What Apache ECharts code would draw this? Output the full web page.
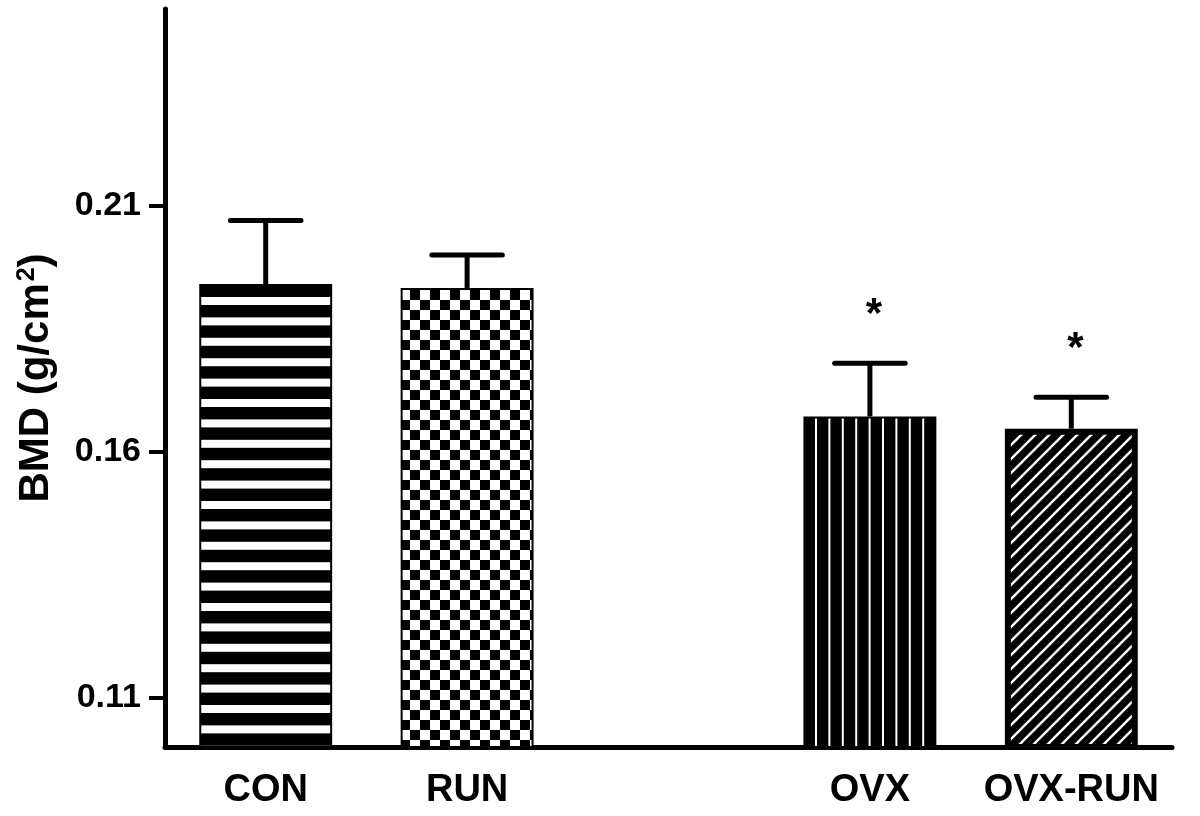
<!DOCTYPE html>
<html><head><meta charset="utf-8">
<script src="https://cdn.jsdelivr.net/npm/echarts@6/dist/echarts.min.js"></script>
<style>html,body{margin:0;padding:0;background:#fff}#c{width:1200px;height:816px}</style>
</head><body><div id="c"></div>
<script>
const categories = ['CON', 'RUN', '', 'OVX', 'OVX-RUN'];
const bmdMean = [0.1941, 0.1933, null, 0.1672, 0.1647];
const bmdSem = [0.0129, 0.0067, null, 0.0108, 0.0064];
const significance = ['', '', '', '*', '*'];
const yTicks = [0.11, 0.16, 0.21];

const FONT = 'Liberation Sans';

function makePattern(w, h, draw) {
  const c = document.createElement('canvas');
  c.width = w; c.height = h;
  const g = c.getContext('2d');
  draw(g, w, h);
  return { image: c, repeat: 'repeat' };
}
// horizontal stripes, period 20.4 px (5 stripes per 102 px tile)
const patHorizontal = makePattern(40, 102, (g, w, h) => {
  g.fillStyle = '#000'; g.fillRect(0, 0, w, h);
  g.fillStyle = '#fff';
  for (let k = 0; k < 6; k++) {
    const y = (93 + 20.4 * k) % 102;
    g.fillRect(0, y, w, 8);
    if (y + 8 > h) g.fillRect(0, y - h, w, 8);
  }
});
const patChecker = makePattern(20, 20, (g, w, h) => {
  g.fillStyle = '#fff'; g.fillRect(0, 0, w, h);
  g.fillStyle = '#000'; g.fillRect(0, 0, 10, 10); g.fillRect(10, 10, 10, 10);
});
// vertical stripes, period 13.4 px (5 per 67 px tile)
const patVertical = makePattern(67, 40, (g, w, h) => {
  g.fillStyle = '#000'; g.fillRect(0, 0, w, h);
  g.fillStyle = '#fff';
  for (let k = 0; k < 5; k++) g.fillRect(11 + 13.4 * k, 0, 2, h);
});
const patDiagonal = makePattern(14, 14, (g, w, h) => {
  g.fillStyle = '#000'; g.fillRect(0, 0, w, h);
  g.strokeStyle = '#fff'; g.lineWidth = 2.4;
  for (let k = -1; k <= 1; k++) {
    g.beginPath(); g.moveTo(k * 14 - 2, 16); g.lineTo(k * 14 + 16, -2); g.stroke();
  }
});
const barPatterns = [patHorizontal, patChecker, null, patVertical, patDiagonal];
const barBorders = [2, 2, 0, 2, 6];

const chart = echarts.init(document.getElementById('c'), null, { renderer: 'canvas' });

const errData = [];
bmdMean.forEach((m, i) => { if (m != null) errData.push([i, m, m + bmdSem[i]]); });

chart.setOption({
  animation: false,
  backgroundColor: '#fff',
  grid: { left: 165, right: 28, top: 9, bottom: 69, containLabel: false },
  xAxis: {
    type: 'category',
    data: categories,
    axisLine: { lineStyle: { color: '#000', width: 5, cap: 'round' } },
    axisTick: { show: false },
    axisLabel: { color: '#000', fontFamily: FONT, fontWeight: 'bold', fontSize: 38, margin: 25, interval: 0 }
  },
  yAxis: {
    type: 'value',
    min: 0.10,
    max: 0.25,
    name: 'BMD (g/cm{sup|2})',
    nameLocation: 'middle',
    nameRotate: 90,
    nameGap: 108,
    nameTextStyle: {
      color: '#000', fontFamily: FONT, fontWeight: 'bold', fontSize: 42,
      rich: { sup: { color: '#000', fontFamily: FONT, fontWeight: 'bold', fontSize: 25, verticalAlign: 'top', padding: [0, 0, 16, 2] } }
    },
    axisLine: { show: true, lineStyle: { color: '#000', width: 5, cap: 'round' } },
    axisTick: { show: true, customValues: yTicks, length: 16, lineStyle: { color: '#000', width: 4 } },
    axisLabel: { customValues: yTicks, formatter: v => v.toFixed(2), color: '#000', fontFamily: FONT, fontWeight: 'bold', fontSize: 34, margin: 24 },
    splitLine: { show: false }
  },
  series: [
    {
      type: 'bar',
      barWidth: '66%',
      data: bmdMean.map((v, i) => v == null ? null : {
        value: v,
        itemStyle: { color: barPatterns[i], borderColor: '#000', borderWidth: barBorders[i] }
      })
    },
    {
      type: 'custom',
      z: 5,
      encode: { x: 0, y: [1, 2] },
      data: errData,
      renderItem: function (params, api) {
        const idx = api.value(0);
        const base = api.coord([idx, api.value(1)]);
        const top = api.coord([idx, api.value(2)]);
        const half = api.size([1, 0])[0] * 0.175;
        const ls = { stroke: '#000', lineWidth: 5, lineCap: 'round' };
        const children = [
          { type: 'line', shape: { x1: base[0], y1: base[1], x2: top[0], y2: top[1] }, style: { stroke: '#000', lineWidth: 5 } },
          { type: 'line', shape: { x1: top[0] - half, y1: top[1], x2: top[0] + half, y2: top[1] }, style: ls }
        ];
        if (significance[idx]) {
          children.push({
            type: 'text',
            style: { text: significance[idx], x: top[0] + 4, y: top[1] - 48, align: 'center', verticalAlign: 'middle',
                     font: 'bold 42px "' + FONT + '"', fill: '#000' }
          });
        }
        return { type: 'group', children: children };
      }
    }
  ]
});
</script>
</body></html>
